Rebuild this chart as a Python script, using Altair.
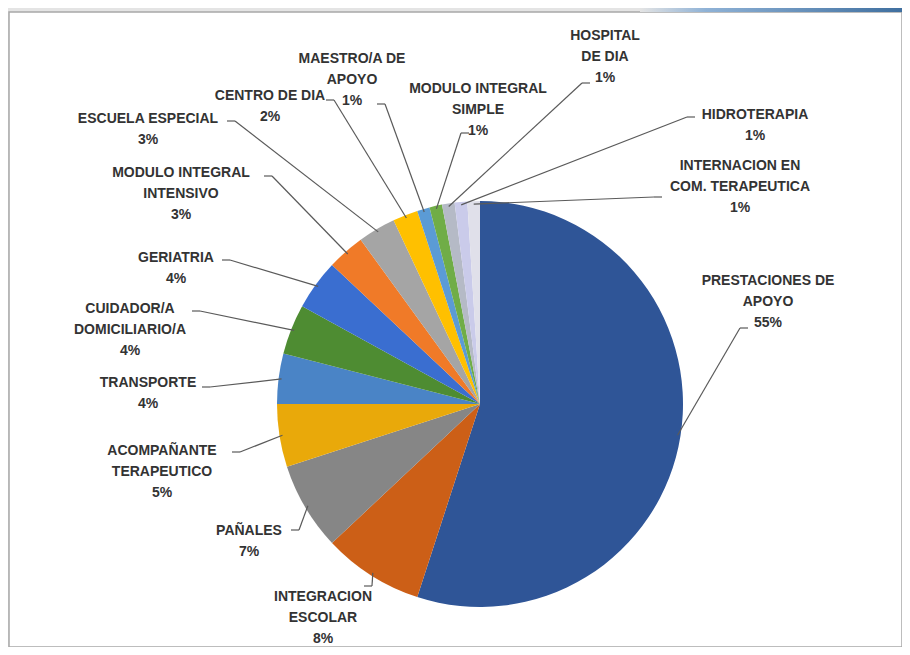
import altair as alt
import pandas as pd

# ---------------- data ----------------
categories = [
    "PRESTACIONES DE APOYO", "INTEGRACION ESCOLAR", "PAÑALES",
    "ACOMPAÑANTE TERAPEUTICO", "TRANSPORTE", "CUIDADOR/A DOMICILIARIO/A",
    "GERIATRIA", "MODULO INTEGRAL INTENSIVO", "ESCUELA ESPECIAL",
    "CENTRO DE DIA", "MAESTRO/A DE APOYO", "MODULO INTEGRAL SIMPLE",
    "HOSPITAL DE DIA", "HIDROTERAPIA", "INTERNACION EN COM. TERAPEUTICA",
]
percent = [55, 8, 7, 5, 4, 4, 4, 3, 3, 2, 1, 1, 1, 1, 1]
label_lines = [
    ["PRESTACIONES DE", "APOYO"], ["INTEGRACION", "ESCOLAR"], ["PAÑALES"],
    ["ACOMPAÑANTE", "TERAPEUTICO"], ["TRANSPORTE"], ["CUIDADOR/A", "DOMICILIARIO/A"],
    ["GERIATRIA"], ["MODULO INTEGRAL", "INTENSIVO"], ["ESCUELA ESPECIAL"],
    ["CENTRO DE DIA"], ["MAESTRO/A DE", "APOYO"], ["MODULO INTEGRAL", "SIMPLE"],
    ["HOSPITAL", "DE DIA"], ["HIDROTERAPIA"], ["INTERNACION EN", "COM. TERAPEUTICA"],
]

# ---------------- styles ----------------
colors = [
    "#2F5597", "#CC5F17", "#868686", "#E9A90A", "#4A84C6", "#4E8C32",
    "#3A6ED0", "#F07A28", "#A5A5A5", "#FFC000", "#5B9BD5", "#70AD47",
    "#B5BAC6", "#CACBEA", "#E0E0EA",
]

# ---------------- layout (page pixels) ----------------
ORIGIN_X, ORIGIN_Y = 9, 12          # page position of the plot area
W, H = 893, 635
CX, CY, R = 480 - ORIGIN_X, 404 - ORIGIN_Y, 203
STUB = 8
LINE_H = 21
FONT_SIZE = 14

# label block: centre x and middle of first line (page coords)
label_cx = [768, 323, 249, 162, 148, 130, 176, 181, 148, 270, 352, 478, 605, 755, 740]
label_my = [280, 596, 530, 450, 382, 308, 257, 172, 118, 95, 58, 88, 35, 114, 165]
# label-side end of each leader line (page coords)
leader_x = [748, 364, 291, 232, 202, 192, 222, 264, 227, 326, 377, 469, 590, 695, 662]
leader_y = [328, 586, 530, 452, 387, 311, 260, 176, 121, 100, 104, 133, 83, 117, 197]

df = pd.DataFrame({
    "idx": list(range(len(categories))),
    "category": categories,
    "value": percent,
    "label": ["\n".join(l + [f"{p}%"]) for l, p in zip(label_lines, percent)],
    "lx": [x - ORIGIN_X for x in label_cx],
    "ly": [y - ORIGIN_Y - FONT_SIZE * 0.45 for y in label_my],
    "ex": [x - ORIGIN_X for x in leader_x],
    "ey": [y - ORIGIN_Y for y in leader_y],
})

base = alt.Chart(df)

pie = base.mark_arc(outerRadius=R).encode(
    theta=alt.Theta("value:Q", stack=True),
    order=alt.Order("idx:Q"),
    color=alt.Color("category:N", scale=alt.Scale(domain=categories, range=colors), legend=None),
    x=alt.value(CX),
    y=alt.value(CY),
)

lead_base = base.transform_window(
    cum="sum(value)", sort=[alt.SortField("idx")], frame=[None, 0]
).transform_joinaggregate(
    total="sum(value)"
).transform_calculate(
    mid="2*PI*(datum.cum - datum.value/2)/datum.total",
).transform_calculate(
    sx=f"{CX} + {R - 3}*sin(datum.mid)",
    sy=f"{CY} - {R - 3}*cos(datum.mid)",
).transform_calculate(
    bx=f"datum.ex + (datum.sx > datum.ex ? {STUB} : -{STUB})",
)

leader_main = lead_base.mark_rule(color="#5a5a5a", strokeWidth=1.2).encode(
    x=alt.X("sx:Q", scale=None),
    y=alt.Y("sy:Q", scale=None),
    x2="bx:Q",
    y2="ey:Q",
)
leader_stub = lead_base.mark_rule(color="#5a5a5a", strokeWidth=1.2).encode(
    x=alt.X("bx:Q", scale=None),
    y=alt.Y("ey:Q", scale=None),
    x2="ex:Q",
    y2="ey:Q",
)

labels = base.mark_text(
    align="center", baseline="top", lineBreak="\n", lineHeight=LINE_H,
    font="Liberation Sans", fontSize=FONT_SIZE, fontWeight="bold", color="#333333",
).encode(
    x=alt.X("lx:Q", scale=None),
    y=alt.Y("ly:Q", scale=None),
    text="label:N",
)

header = alt.Chart(alt.Data(values=[{"k": 0}])).mark_rect(
    fill=alt.Gradient(
        gradient="linear", x1=0, x2=1, y1=0, y2=0,
        stops=[alt.GradientStop(color="#e4e4e4", offset=0),
               alt.GradientStop(color="#8fb2d6", offset=0.25),
               alt.GradientStop(color="#3f6f9f", offset=1)],
    )
).encode(
    x=alt.value(640 - ORIGIN_X), x2=alt.value(W + 1), y=alt.value(-4), y2=alt.value(0)
)

chart = alt.layer(header, pie, leader_main, leader_stub, labels).properties(
    width=W, height=H,
    autosize=alt.AutoSizeParams(type="none"),
    padding={"left": 1, "top": 4, "right": 0, "bottom": 0},
    background="#e4e4e4",
).configure_view(fill="white", stroke="#a8a8a8", strokeWidth=1.5)

chart.save("out.html", embed_options={"renderer": "svg", "actions": False})
